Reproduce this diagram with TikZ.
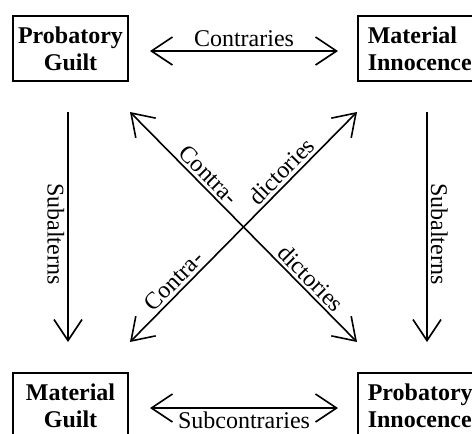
\documentclass[tikz,border=0pt]{standalone}
\usepackage{fontspec}
\setmainfont{Liberation Serif}
\usetikzlibrary{arrows.meta}
\begin{document}
\begin{tikzpicture}[x=0.5pt, y=-0.5pt, line width=0.8pt,
  font=\fontsize{12}{13.5}\selectfont,
  >={Straight Barb[length=10.5pt, width=14pt]},
  corner/.style={draw, font=\fontsize{12}{13.5}\selectfont\bfseries, minimum height=32.5pt, inner sep=0pt},
  rel/.style={inner sep=1.5pt}]
\useasboundingbox (0,0) rectangle (472,434);
% the four corners
\node[corner, minimum width=57.5pt, align=center] (pg) at (70.5,48.5) {Probatory\\Guilt};
\node[corner, inner xsep=5pt, align=left, anchor=west] (mi) at (357,48.5) {Material\\Innocence};
\node[corner, minimum width=57.5pt, align=center] (mg) at (70.5,405.5) {Material\\Guilt};
\node[corner, inner xsep=5pt, align=left, anchor=west] (pi) at (357,405.5) {Probatory\\Innocence};
% arrow ends
\coordinate (ct1) at (150,51);  \coordinate (ct2) at (338,51);
\coordinate (sc1) at (150,408); \coordinate (sc2) at (338,408);
\coordinate (sl1) at (68,112);  \coordinate (sl2) at (68,342);
\coordinate (sr1) at (427,112); \coordinate (sr2) at (427,342);
\coordinate (ul) at (130,112);  \coordinate (ur) at (357,112);
\coordinate (ll) at (130,342);  \coordinate (lr) at (357,342);
\draw[<->] (ct1) -- (ct2) node[rel, midway, above] {Contraries};
\draw[<->] (sc1) -- (sc2) node[rel, midway, below] {Subcontraries};
\draw[->] (sl1) -- (sl2) node[rel, pos=0.53, sloped, below] {Subalterns};
\draw[->] (sr1) -- (sr2) node[rel, pos=0.53, sloped, above] {Subalterns};
% contradictories
\draw[<->] (ul) -- (lr) node[rel, pos=0.31, sloped, above] {Contra-}
  node[rel, pos=0.76, sloped, above] {dictories};
\draw[<->] (ll) -- (ur) node[rel, pos=0.23, sloped, above] {Contra-}
  node[rel, pos=0.705, sloped, above] {dictories};
\end{tikzpicture}
\end{document}
